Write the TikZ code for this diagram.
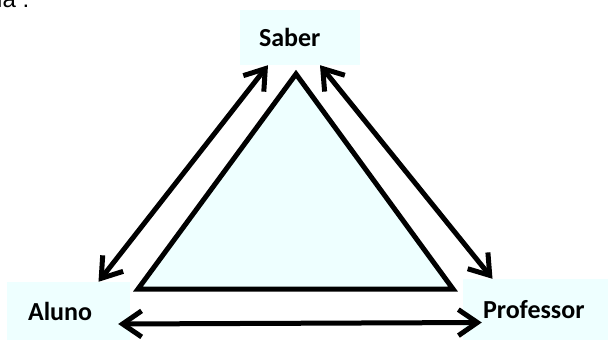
\documentclass[tikz,border=0pt]{standalone}
\usepackage{fontspec}
\setmainfont{Carlito}
\newfontfamily\introfont{Liberation Sans}
\usetikzlibrary{arrows.meta}
\definecolor{paleCyan}{RGB}{238,255,255}

\begin{document}
\begin{tikzpicture}[x=1pt, y=-1pt,
    box/.style={rectangle, fill=paleCyan, inner ysep=0pt, align=left, font=\fontsize{26}{30}\selectfont\bfseries},
    link/.style={line width=5pt, {Straight Barb[length=19pt, width=26pt]}-{Straight Barb[length=19pt, width=26pt]}}]
    \useasboundingbox (0,0) rectangle (608,340);

    % Nodes
    \node (intro) [anchor=base west, inner sep=0pt, font=\introfont\fontsize{24}{28}\selectfont] at (-3,8) {ia :};
    \node (saber) [box, inner xsep=19pt, text width=82pt, minimum height=55pt] at (300,37.5) {Saber};
    \node (aluno) [box, inner xsep=21pt, text width=81pt, minimum height=58pt] at (68.5,311) {Aluno};
    \node (professor) [box, inner xsep=20pt, text width=105pt, minimum height=61pt] at (535.5,309.5) {Professor};

    % Triangle
    \draw[line width=5pt, line join=miter, fill=paleCyan] (296,74) -- (138,289) -- (453,289) -- cycle;

    % Links
    \draw[link] ([xshift=-32pt]saber.south) -- ([xshift=30pt]aluno.north);
    \draw[link] ([xshift=20pt]saber.south) -- ([xshift=-43pt]professor.north);
    \draw[link] ([xshift=-12pt, yshift=-13pt]aluno.east) -- ([xshift=19pt, yshift=-13pt]professor.west);

\end{tikzpicture}
\end{document}
